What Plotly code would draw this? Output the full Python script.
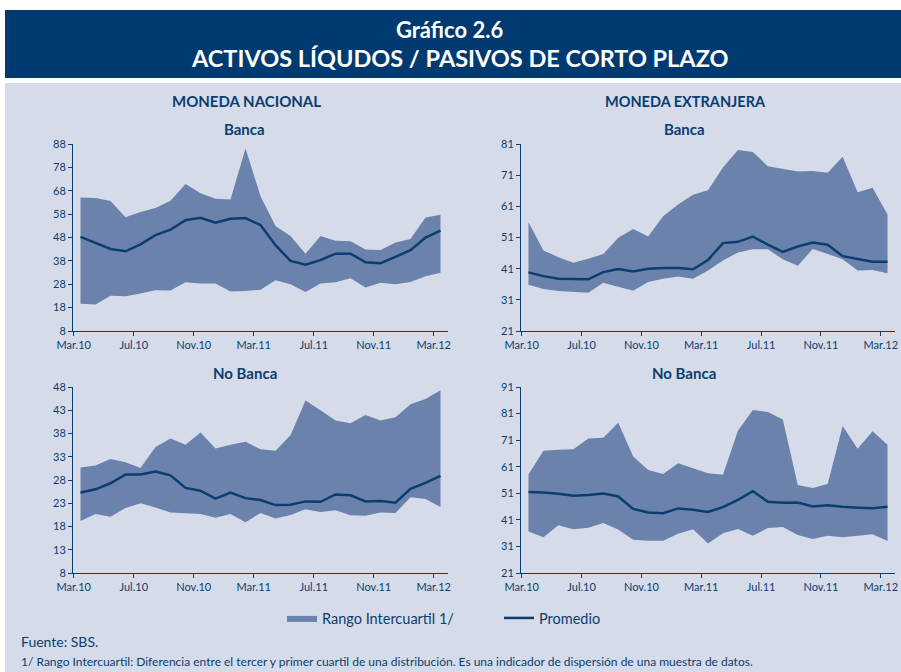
import plotly.graph_objects as go

months = ["Mar.10", "Abr.10", "May.10", "Jun.10", "Jul.10", "Ago.10", "Set.10", "Oct.10",
          "Nov.10", "Dic.10", "Ene.11", "Feb.11", "Mar.11", "Abr.11", "May.11", "Jun.11",
          "Jul.11", "Ago.11", "Set.11", "Oct.11", "Nov.11", "Dic.11", "Ene.12", "Feb.12", "Mar.12"]
tick_labels = ["Mar.10", "Jul.10", "Nov.10", "Mar.11", "Jul.11", "Nov.11", "Mar.12"]

# Moneda nacional - Banca
mn_b_q3 = [65.1, 64.9, 63.6, 56.7, 58.9, 60.6, 63.7, 70.9, 66.9, 64.6, 64.3, 86.1, 65.7,
           52.9, 48.6, 41.1, 48.6, 46.6, 46.4, 42.9, 42.6, 45.9, 47.4, 56.6, 57.7]
mn_b_mean = [48.3, 45.7, 43.1, 42.1, 45.1, 49.0, 51.4, 55.4, 56.4, 54.3, 56.0, 56.3, 53.3,
             44.7, 38.0, 36.4, 38.3, 41.1, 41.1, 37.4, 37.0, 39.7, 42.6, 48.0, 50.9]
mn_b_q1 = [19.7, 19.3, 23.1, 22.9, 24.0, 25.4, 25.3, 28.9, 28.3, 28.3, 24.9, 25.1, 25.7,
           29.7, 28.0, 24.7, 28.3, 28.9, 30.6, 26.6, 28.6, 28.0, 29.0, 31.4, 32.9]

# Moneda extranjera - Banca
me_b_q3 = [55.9, 46.8, 44.7, 42.9, 44.2, 45.7, 50.9, 53.7, 51.3, 57.8, 61.6, 64.7, 66.2,
           73.5, 79.1, 78.4, 73.9, 73.0, 72.2, 72.3, 71.8, 76.9, 65.5, 67.0, 58.4]
me_b_mean = [39.8, 38.6, 37.8, 37.6, 37.6, 39.9, 40.9, 40.1, 41.0, 41.2, 41.2, 40.8, 43.8,
             49.2, 49.6, 51.3, 48.7, 46.4, 48.1, 49.4, 48.7, 45.0, 44.1, 43.2, 43.2]
me_b_q1 = [35.8, 34.5, 33.8, 33.6, 33.3, 36.5, 35.2, 33.9, 36.7, 37.8, 38.5, 37.8, 40.4,
           43.6, 46.2, 47.2, 47.2, 44.0, 41.9, 47.3, 45.7, 44.0, 40.4, 40.6, 39.5]

# Moneda nacional - No Banca
mn_nb_q3 = [30.7, 31.1, 32.5, 31.8, 30.6, 35.1, 36.9, 35.6, 38.2, 34.8, 35.6, 36.2, 34.6,
            34.3, 37.6, 45.1, 43.0, 40.8, 40.2, 42.0, 40.8, 41.5, 44.3, 45.4, 47.3]
mn_nb_mean = [25.3, 26.0, 27.3, 29.2, 29.2, 29.8, 29.0, 26.3, 25.7, 24.0, 25.3, 24.1, 23.7,
              22.6, 22.7, 23.4, 23.3, 24.9, 24.7, 23.4, 23.5, 23.1, 26.1, 27.4, 28.9]
mn_nb_q1 = [19.2, 20.7, 20.1, 22.0, 23.0, 22.1, 21.0, 20.8, 20.7, 19.9, 20.7, 18.9, 20.9,
            19.7, 20.5, 21.7, 21.1, 21.5, 20.4, 20.3, 21.0, 20.9, 24.3, 23.9, 22.2]

# Moneda extranjera - No Banca
me_nb_q3 = [58.1, 67.0, 67.4, 67.6, 71.6, 71.9, 77.5, 64.8, 59.8, 58.3, 62.3, 60.3, 58.5,
            58.0, 74.5, 82.3, 81.6, 78.8, 54.1, 53.0, 54.5, 76.3, 67.8, 74.3, 69.3]
me_nb_mean = [51.5, 51.3, 50.8, 50.1, 50.4, 50.9, 49.8, 45.1, 43.8, 43.5, 45.3, 44.8, 44.0,
              45.8, 48.5, 51.8, 47.8, 47.4, 47.5, 46.0, 46.5, 45.9, 45.6, 45.4, 45.9]
me_nb_q1 = [36.6, 34.5, 39.0, 37.5, 38.0, 39.8, 37.4, 33.5, 33.1, 33.1, 35.8, 37.5, 32.1,
            36.0, 37.6, 35.0, 37.9, 38.3, 35.3, 33.8, 35.0, 34.5, 35.0, 35.6, 33.0]

mn_b_ticks = [8, 18, 28, 38, 48, 58, 68, 78, 88]
me_b_ticks = [21, 31, 41, 51, 61, 71, 81]
mn_nb_ticks = [8, 13, 18, 23, 28, 33, 38, 43, 48]
me_nb_ticks = [21, 31, 41, 51, 61, 71, 81, 91]

NAVY = "#0B3E70"
BAND = "#6A82AC"
PANEL = "#D5DBE8"
FONT = "Lato, Roboto, sans-serif"

W, H = 901, 672
xs = [i + 0.45 for i in range(len(months))]
tickpos = [months.index(t) for t in tick_labels]

fig = go.Figure()

panels = [
    ("x", "y", mn_b_q1, mn_b_q3, mn_b_mean, mn_b_ticks, (73, 448), (144, 331)),
    ("x2", "y2", me_b_q1, me_b_q3, me_b_mean, me_b_ticks, (521, 895), (144, 331)),
    ("x3", "y3", mn_nb_q1, mn_nb_q3, mn_nb_mean, mn_nb_ticks, (73, 448), (387, 573)),
    ("x4", "y4", me_nb_q1, me_nb_q3, me_nb_mean, me_nb_ticks, (521, 895), (387, 573)),
]

for k, (xa, ya, q1, q3, mean, yt, (xl, xr), (yt_px, yb_px)) in enumerate(panels):
    fig.add_trace(go.Scatter(x=xs, y=q1, xaxis=xa, yaxis=ya, mode="lines",
                             line=dict(width=0, color=BAND), showlegend=False, hoverinfo="skip"))
    fig.add_trace(go.Scatter(x=xs, y=q3, xaxis=xa, yaxis=ya, mode="lines", fill="tonexty",
                             fillcolor=BAND, line=dict(width=0, color=BAND),
                             name="Rango Intercuartil 1/", showlegend=(k == 0)))
    fig.add_trace(go.Scatter(x=xs, y=mean, xaxis=xa, yaxis=ya, mode="lines",
                             line=dict(width=2.5, color=NAVY), name="Promedio",
                             showlegend=(k == 0)))
    sfx = "" if k == 0 else str(k + 1)
    axis_common = dict(showline=True, linecolor=NAVY, linewidth=1, ticks="outside",
                       ticklen=4, tickcolor=NAVY, showgrid=False, zeroline=False,
                       automargin=False,
                       tickfont=dict(family=FONT, size=11, color=NAVY))
    fig.layout["xaxis" + sfx] = dict(domain=[xl / W, xr / W], anchor=ya, range=[-0.05, 24.95],
                                     tickvals=tickpos, ticktext=tick_labels, **axis_common)
    fig.layout["yaxis" + sfx] = dict(domain=[1 - yb_px / H, 1 - yt_px / H], anchor=xa,
                                     range=[yt[0], yt[-1]], tickvals=yt,
                                     ticktext=[str(v) for v in yt], **axis_common)

shapes = [
    dict(type="rect", xref="paper", yref="paper", x0=5 / W, x1=1, y0=1 - 78 / H, y1=1 - 10 / H,
         fillcolor="#003A70", line=dict(width=0), layer="below"),
    dict(type="rect", xref="paper", yref="paper", x0=5 / W, x1=1, y0=0, y1=1 - 83 / H,
         fillcolor=PANEL, line=dict(width=0), layer="below"),
]

def txt(text, x, y, size, color=NAVY, bold=False, xanchor="center"):
    return dict(text=("<b>%s</b>" % text) if bold else text, x=x / W, y=1 - y / H,
                xref="paper", yref="paper", showarrow=False, xanchor=xanchor, yanchor="middle",
                font=dict(family=FONT, size=size, color=color))

annotations = [
    txt("Gráfico 2.6", 449, 30, 22, "white", True),
    txt("ACTIVOS LÍQUDOS / PASIVOS DE CORTO PLAZO", 460, 58, 23.5, "white", True),
    txt("MONEDA NACIONAL", 246, 101, 15, NAVY, True),
    txt("MONEDA EXTRANJERA", 685, 101, 14.5, NAVY, True),
    txt("Banca", 245, 129, 15, NAVY, True),
    txt("Banca", 684, 129, 15, NAVY, True),
    txt("No Banca", 245, 373, 15, NAVY, True),
    txt("No Banca", 684, 373, 15, NAVY, True),
    txt("Fuente: SBS.", 19, 641, 14, NAVY, False, "left"),
    txt("1/ Rango Intercuartil: Diferencia entre el tercer y primer cuartil de una distribución. "
        "Es una indicador de dispersión de una muestra de datos.", 19, 661, 12, NAVY, False, "left"),
]

fig.update_layout(
    width=W, height=H, margin=dict(l=0, r=0, t=0, b=0, autoexpand=False),
    paper_bgcolor="white", plot_bgcolor="rgba(0,0,0,0)",
    shapes=shapes, annotations=annotations,
    legend=dict(orientation="h", x=282 / W, y=1 - 618 / H, xanchor="left", yanchor="middle",
                bgcolor="rgba(0,0,0,0)", font=dict(family=FONT, size=14.5, color=NAVY),
                itemwidth=30, traceorder="normal", entrywidth=172),
    showlegend=True,
)

fig.write_html("out.html", config={"displayModeBar": False},
               post_script="document.body.style.margin='0';document.body.style.overflow='hidden';")
